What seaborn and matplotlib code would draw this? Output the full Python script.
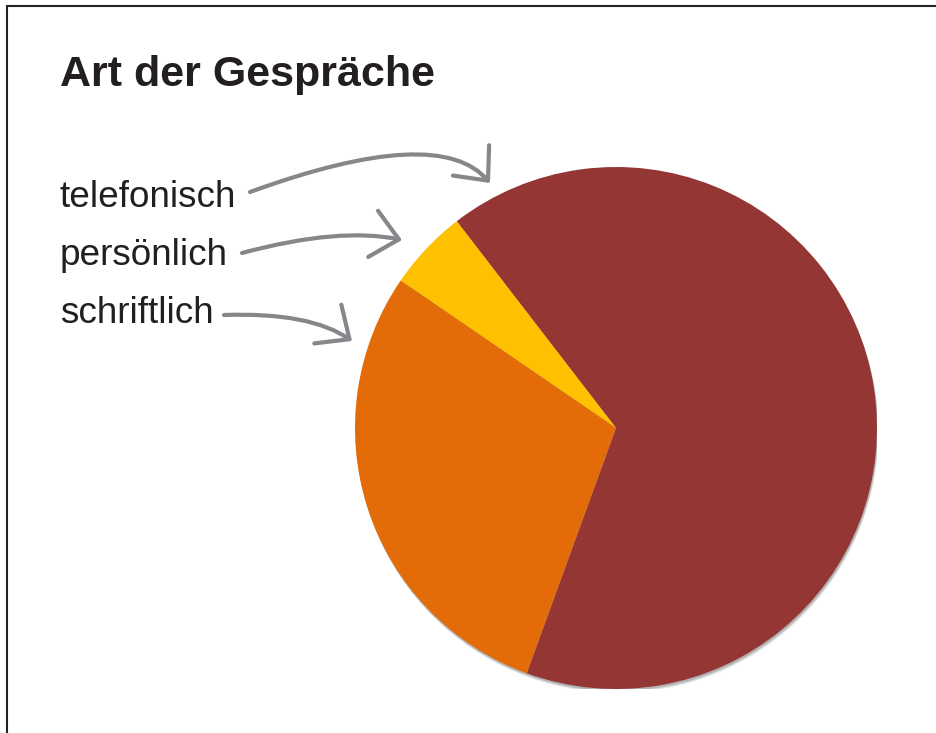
import matplotlib
matplotlib.use("Agg")
import matplotlib.pyplot as plt
import seaborn as sns
from matplotlib.lines import Line2D
from matplotlib.patches import Circle

# Data
categories = ["telefonisch", "persönlich", "schriftlich"]
shares = [66, 5, 29]
colors = ["#943634", "#FFC000", "#E36C09"]
title = "Art der Gespräche"

sns.set_theme(style="white")
plt.rcParams["font.family"] = ["Liberation Sans", "DejaVu Sans"]

W, H = 936, 733
fig = plt.figure(figsize=(W / 100, H / 100), dpi=100)
fig.patch.set_facecolor("white")

# pie axes: centre (616,428) px, radius 261 px
cx, cy, r = 616, 428, 261
ax = fig.add_axes([(cx - r) / W, (H - cy - r) / H, 2 * r / W, 2 * r / H])
ax.set_xlim(-1, 1)
ax.set_ylim(-1, 1)
ax.axis("off")

# soft shadow
for i, a in enumerate([0.06, 0.10, 0.14, 0.18]):
    off = 0.016 - i * 0.003
    ax.add_patch(Circle((off * 0.4, -off), 1.0, facecolor="#444444",
                        edgecolor="none", alpha=a, zorder=0))

palette = sns.color_palette(colors)
ax.pie(shares, colors=palette, startangle=250, counterclock=True,
       radius=1.0, center=(0, 0), wedgeprops=dict(linewidth=0, zorder=2),
       frame=False)
ax.set_xlim(-1, 1)
ax.set_ylim(-1, 1)
ax.set_aspect("auto")

txt_color = "#231F20"
fig.text(60 / W, 1 - 86 / H, title, fontsize=31, fontweight="bold",
         color=txt_color, ha="left", va="baseline")

label_baselines = [207, 265, 323]
for lab, yb in zip(categories, label_baselines):
    fig.text(60 / W, 1 - yb / H, lab, fontsize=26.6, color=txt_color,
             ha="left", va="baseline")

# curved arrows (image pixel coords -> figure pixels)
arrows = [
    ((250, 192), (490, 183), 20, -50),
    ((242, 253), (402, 240), 15, -12),
    ((224, 315), (352, 341), 2, -35),
]
arrow_col = "#86878A"
for (x0, y0), (x1, y1), aA, aB in arrows:
    fig.add_artist(plt.Annotation(
        "", xy=(x1, H - y1), xycoords="figure pixels",
        xytext=(x0, H - y0), textcoords="figure pixels",
        arrowprops=dict(arrowstyle="->,head_length=0.95,head_width=0.85",
                        mutation_scale=20, color=arrow_col, lw=3,
                        shrinkA=0, shrinkB=0,
                        connectionstyle=f"angle3,angleA={aA},angleB={aB}")))

# frame lines (top and left)
fig.add_artist(Line2D([7 / W, 1], [1 - 6 / H, 1 - 6 / H],
                      transform=fig.transFigure, color="#222222", lw=1.5))
fig.add_artist(Line2D([7 / W, 7 / W], [0, 1 - 6 / H],
                      transform=fig.transFigure, color="#222222", lw=1.5))

fig.savefig("out.png", dpi=100, facecolor="white")
